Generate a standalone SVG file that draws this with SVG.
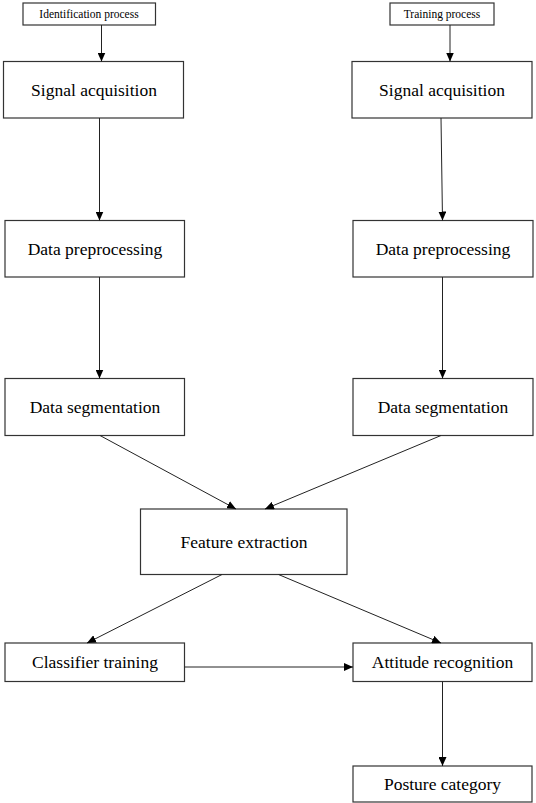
<svg xmlns="http://www.w3.org/2000/svg" width="536" height="803" viewBox="0 0 536 803">
<style>
.box{fill:#fff;stroke:#333;stroke-width:1.2}
.t{font-family:"Liberation Serif","Times New Roman",serif;font-size:17.5px;fill:#000;text-anchor:middle}
.s{font-family:"Liberation Serif","Times New Roman",serif;font-size:11.5px;fill:#000;text-anchor:middle}
.c line{stroke:#222;stroke-width:1;marker-end:url(#ah)}
</style>
<defs>
<marker id="ah" markerUnits="userSpaceOnUse" markerWidth="10" markerHeight="8" refX="9" refY="4" orient="auto">
<path d="M0,0 L9,4 L0,8 Z" fill="#000"/>
</marker>
</defs>
<rect width="536" height="803" fill="#fff"/>
<g id="id-process"><rect class="box" x="23" y="3" width="132.5" height="22"/><text class="s" x="89" y="18">Identification process</text></g>
<g id="train-process"><rect class="box" x="390" y="3" width="104" height="22"/><text class="s" x="442" y="18">Training process</text></g>
<g id="sig-l"><rect class="box" x="3.5" y="61.5" width="180" height="56.5"/><text class="t" x="94" y="96">Signal acquisition</text></g>
<g id="sig-r"><rect class="box" x="352" y="61.5" width="180" height="56.5"/><text class="t" x="442" y="96">Signal acquisition</text></g>
<g id="pre-l"><rect class="box" x="5" y="220.5" width="179.5" height="56.5"/><text class="t" x="95" y="255">Data preprocessing</text></g>
<g id="pre-r"><rect class="box" x="353" y="220.5" width="180" height="56.5"/><text class="t" x="443" y="255">Data preprocessing</text></g>
<g id="seg-l"><rect class="box" x="5" y="378.5" width="179.5" height="57"/><text class="t" x="95" y="413">Data segmentation</text></g>
<g id="seg-r"><rect class="box" x="353" y="378.5" width="180" height="57"/><text class="t" x="443" y="413">Data segmentation</text></g>
<g id="feat"><rect class="box" x="140.5" y="509" width="206.5" height="65.5"/><text class="t" x="244" y="547.5">Feature extraction</text></g>
<g id="cls"><rect class="box" x="5" y="643" width="179.5" height="38.5"/><text class="t" x="95" y="668">Classifier training</text></g>
<g id="att"><rect class="box" x="353" y="643" width="179" height="38.5"/><text class="t" x="442.5" y="668">Attitude recognition</text></g>
<g id="post"><rect class="box" x="353" y="766" width="179" height="36"/><text class="t" x="442.5" y="790">Posture category</text></g>
<g class="c" id="connectors">
<line x1="101.5" y1="25" x2="101.5" y2="61.5"/>
<line x1="450" y1="25" x2="450" y2="61.5"/>
<line x1="99.5" y1="118" x2="99.5" y2="220.5"/>
<line x1="441" y1="118" x2="442.5" y2="220.5"/>
<line x1="99.5" y1="277" x2="99.5" y2="378.5"/>
<line x1="442.5" y1="277" x2="442.5" y2="378.5"/>
<line x1="100" y1="435.5" x2="236" y2="509"/>
<line x1="441" y1="435.5" x2="265" y2="509"/>
<line x1="222" y1="574.5" x2="87" y2="643"/>
<line x1="278.5" y1="574.5" x2="441" y2="643"/>
<line x1="184.5" y1="667" x2="353" y2="667"/>
<line x1="442.5" y1="681.5" x2="442.5" y2="766"/>
</g>
</svg>
